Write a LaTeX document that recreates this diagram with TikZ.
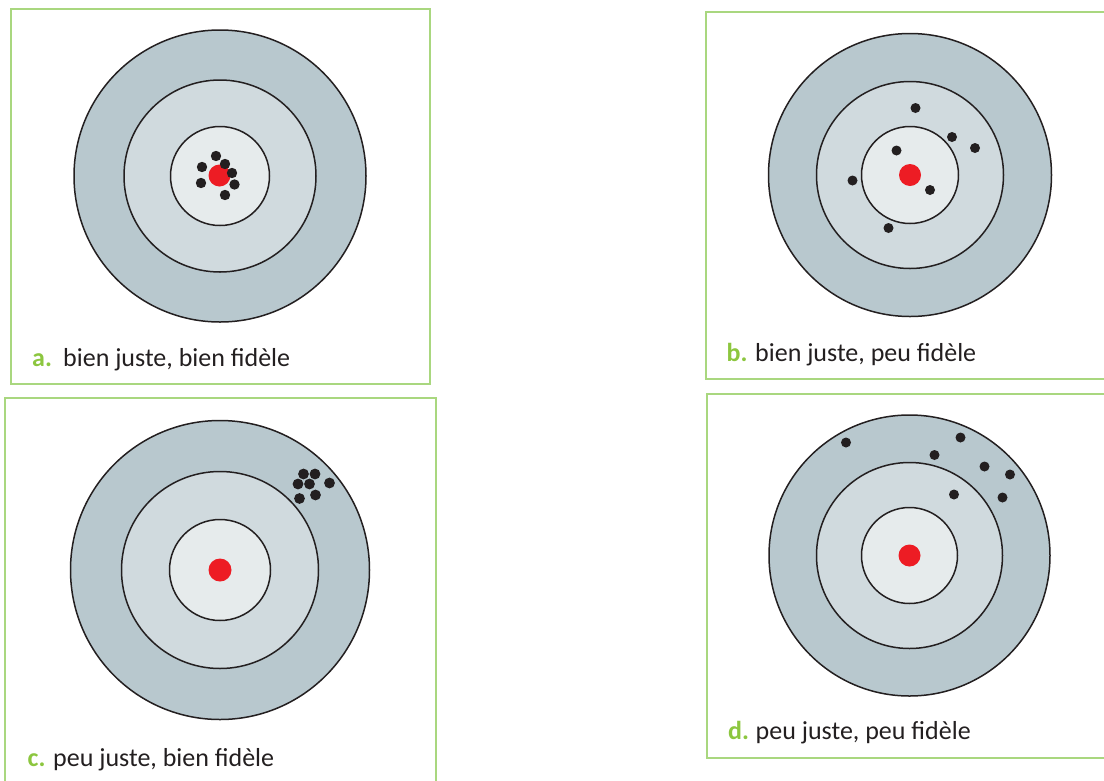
\documentclass[tikz,border=0pt]{standalone}
\usepackage{fontspec}
\setmainfont{Carlito}
\usetikzlibrary{positioning}
\definecolor{framegreen}{HTML}{A9D77F}
\definecolor{lettergreen}{HTML}{8CC63F}
\definecolor{ringout}{HTML}{B8C8CE}
\definecolor{ringmid}{HTML}{D0DADE}
\definecolor{ringin}{HTML}{E6EBEC}
\definecolor{bullred}{HTML}{ED1C24}
\definecolor{inkgray}{HTML}{231F20}
\tikzset{
  panel/.style   = {draw=framegreen, line width=1.8pt},
  ring/.style    = {circle, draw=inkgray, line width=1.5pt, inner sep=0pt},
  outer/.style   = {ring, fill=ringout},
  middle/.style  = {ring, fill=ringmid},
  inner/.style   = {ring, fill=ringin},
  bull/.style    = {circle, fill=bullred, inner sep=0pt, minimum size=22pt},
  shot/.style    = {fill=inkgray},
  letter/.style  = {anchor=base west, inner sep=0pt, text=lettergreen,
                    font=\fontsize{26}{30}\selectfont\bfseries},
  caption/.style = {anchor=base west, inner sep=0pt, text=inkgray,
                    font=\fontsize{26}{30}\selectfont}
}
\begin{document}
\begin{tikzpicture}[x=1pt, y=-1pt]
  \useasboundingbox (0,0) rectangle (1104,780);

  % frames
  \draw[panel] (11,9) rectangle (430,384);
  \draw[panel] (706,12) rectangle (1110,379);
  \draw[panel] (5,398) rectangle (436,790);
  \draw[panel] (707,394) rectangle (1110,758);

  % a. bien juste, bien fidele
  \node[outer,  minimum size=292pt] (Ao) at (220,176) {};
  \node[middle, minimum size=192pt] (Am) at (220,176) {};
  \node[inner,  minimum size=99pt]  (Ai) at (220,176) {};
  \node[bull] (Ab) at (219.5,175.5) {};
  \foreach \p in {(216,156),(202,167),(225,164),(232,173),(201,183),(234.5,184.5),(225,195)}
    \fill[shot] \p circle (5.2pt);
  \node[letter]  (La) at (32,366) {a.};
  \node[caption] (Ta) at (63,366) {bien juste, bien fidèle};

  % b. bien juste, peu fidele
  \node[outer,  minimum size=283pt] (Bo) at (910,175) {};
  \node[middle, minimum size=187pt] (Bm) at (910,175) {};
  \node[inner,  minimum size=97pt]  (Bi) at (910,175) {};
  \node[bull] (Bb) at (910,175) {};
  \foreach \p in {(915.5,108),(952,137),(975,148),(896.5,150.5),(852.5,180.5),(930,190),(888.5,228)}
    \fill[shot] \p circle (5pt);
  \node[letter]  (Lb) at (726.5,361.5) {b.};
  \node[caption] (Tb) at (755,361.5) {bien juste, peu fidèle};

  % c. peu juste, bien fidele
  \node[outer,  minimum size=299pt] (Co) at (220,570) {};
  \node[middle, minimum size=197pt] (Cm) at (220,570) {};
  \node[inner,  minimum size=101pt] (Ci) at (220,570) {};
  \node[bull, minimum size=23pt] (Cb) at (220,570) {};
  \foreach \p in {(303.5,474),(315,474),(298,484),(309.5,484),(329.5,483),(299.5,498.5),(315.5,495)}
    \fill[shot] \p circle (5.4pt);
  \node[letter]  (Lc) at (27.5,766) {c.};
  \node[caption] (Tc) at (53,766) {peu juste, bien fidèle};

  % d. peu juste, peu fidele
  \node[outer,  minimum size=281pt] (Do) at (909.5,555.5) {};
  \node[middle, minimum size=186pt] (Dm) at (909.5,555.5) {};
  \node[inner,  minimum size=96pt]  (Di) at (909.5,555.5) {};
  \node[bull] (Db) at (909.5,555.5) {};
  \foreach \p in {(846,442.5),(960.5,437.5),(934.5,455),(984.5,466.5),(1010,474.5),(954,494.5),(1002.5,497.5)}
    \fill[shot] \p circle (5pt);
  \node[letter]  (Ld) at (728,739) {d.};
  \node[caption] (Td) at (755.5,739) {peu juste, peu fidèle};
\end{tikzpicture}
\end{document}
